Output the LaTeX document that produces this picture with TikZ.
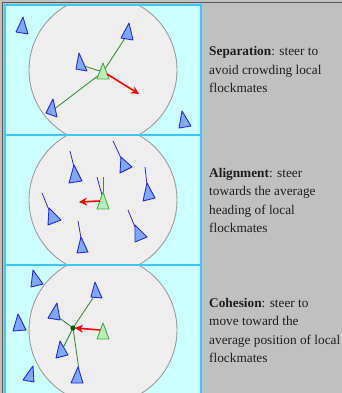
\documentclass[tikz,border=0pt]{standalone}
\usepackage{fontspec}
\setmainfont{Liberation Serif}
\usetikzlibrary{arrows.meta}
\definecolor{bggray}{RGB}{192,192,192}
\definecolor{panelfill}{RGB}{204,255,255}
\definecolor{panelline}{RGB}{60,200,240}
\definecolor{circfill}{RGB}{238,238,238}
\definecolor{circline}{RGB}{155,155,155}
\definecolor{boidfill}{RGB}{125,170,255}
\definecolor{boidline}{RGB}{40,40,225}
\definecolor{mefill}{RGB}{185,240,185}
\definecolor{meline}{RGB}{70,170,70}
\definecolor{linkgreen}{RGB}{60,140,60}
\definecolor{txt}{RGB}{30,30,30}
\tikzset{
  panel/.style={fill=panelfill},
  panelborder/.style={draw=panelline,line width=1.2pt},
  hood/.style={fill=circfill,draw=circline,line width=0.9pt},
  boid/.style={fill=boidfill,draw=boidline,line width=0.9pt,line join=round},
  me/.style={fill=mefill,draw=meline,line width=0.9pt,line join=round},
  link/.style={draw=linkgreen,line width=0.9pt},
  heading/.style={draw=boidline,line width=0.8pt},
  steer/.style={draw=red,line width=1.6pt,-{Stealth[length=8pt,width=8pt]}},
  label/.style={anchor=base west,inner sep=0pt,font=\fontsize{13.3}{16}\selectfont,text=txt}
}
\begin{document}
\begin{tikzpicture}[x=1pt,y=-1pt]
\useasboundingbox (0,0) rectangle (342,393);
\fill[bggray] (0,0) rectangle (342,393);
\draw[gray!70!black,line width=0.6pt] (2,393) -- (2,2) -- (342,2);
% panels
\foreach \t/\b in {5/135,135/265,265/395}{
  \fill[panel] (5,\t) rectangle (201,\b);
  \begin{scope}
    \clip (5,\t) rectangle (201,\b);
    \path[hood] (103,{(\t+\b)/2}) circle (74);
  \end{scope}
}
\draw[panelborder] (5,5) rectangle (201,135);
\draw[panelborder] (5,135) rectangle (201,265);
\draw[panelborder] (5,265) rectangle (201,400);
%% Separation
\draw[link] (103,72) -- (127,35);
\draw[link] (103,72) -- (84,66);
\draw[link] (103,72) -- (53,110);
\draw[boid] (23,17) -- (16,32) -- (28,34) -- cycle;
\draw[boid] (129,23) -- (121,38) -- (133,40) -- cycle;
\draw[boid] (79,53) -- (76,69) -- (87,71) -- cycle;
\draw[boid] (53,99) -- (46,113) -- (57,117) -- cycle;
\draw[boid] (182,111) -- (179,128) -- (191,126) -- cycle;
\draw[me] (103,63) -- (97,79) -- (109,79) -- cycle;
\draw[steer] (107,74) -- (139,94);
%% Alignment
\draw[heading] (70,151) -- (74,167);
\draw[boid] (74,165) -- (69,183) -- (82,181) -- cycle;
\draw[heading] (113,141) -- (121,158);
\draw[boid] (121,157) -- (120,173) -- (132,167) -- cycle;
\draw[heading] (145,167) -- (147,185);
\draw[boid] (147,183) -- (143,201) -- (155,198) -- cycle;
\draw[heading] (42,193) -- (49,210);
\draw[boid] (49,208) -- (48,225) -- (61,220) -- cycle;
\draw[heading] (128,210) -- (135,227);
\draw[boid] (135,225) -- (135,242) -- (147,237) -- cycle;
\draw[heading] (78,221) -- (81,238);
\draw[boid] (81,237) -- (77,253) -- (88,252) -- cycle;
\draw[heading] (97,177) -- (102,195);
\draw[link] (103,177) -- (103,195);
\draw[me] (103,192) -- (97,209) -- (109,209) -- cycle;
\draw[steer] (100,201) -- (79,202);
%% Cohesion
\coordinate (cm) at (73,328);
\draw[link] (cm) -- (93,298);
\draw[link] (cm) -- (58,317);
\draw[link] (cm) -- (63,348);
\draw[link] (cm) -- (79,370);
\draw[boid] (33,270) -- (31,287) -- (43,284) -- cycle;
\draw[boid] (95,282) -- (91,297) -- (102,298) -- cycle;
\draw[boid] (57,303) -- (48,318) -- (60,320) -- cycle;
\draw[boid] (18,314) -- (13,331) -- (26,330) -- cycle;
\draw[boid] (60,341) -- (56,358) -- (68,355) -- cycle;
\draw[boid] (33,366) -- (23,380) -- (34,382) -- cycle;
\draw[boid] (78,367) -- (71,383) -- (83,383) -- cycle;
\draw[me] (103,323) -- (97,339) -- (109,339) -- cycle;
\draw[steer] (100,330) -- (75,328);
\fill[green!35!black] (cm) circle (2.6);
%% Texts
\node[label] (s1) at (209,56) {\textbf{Separation}: steer to};
\node[label] (s2) at (209,74.5) {avoid crowding local};
\node[label] (s3) at (209,93) {flockmates};
\node[label] (a1) at (209,177) {\textbf{Alignment}: steer};
\node[label] (a2) at (209,195.5) {towards the average};
\node[label] (a3) at (209,214) {heading of local};
\node[label] (a4) at (209,232.5) {flockmates};
\node[label] (c1) at (209,307) {\textbf{Cohesion}: steer to};
\node[label] (c2) at (209,325.5) {move toward the};
\node[label] (c3) at (209,344) {average position of local};
\node[label] (c4) at (209,362.5) {flockmates};
\end{tikzpicture}
\end{document}
